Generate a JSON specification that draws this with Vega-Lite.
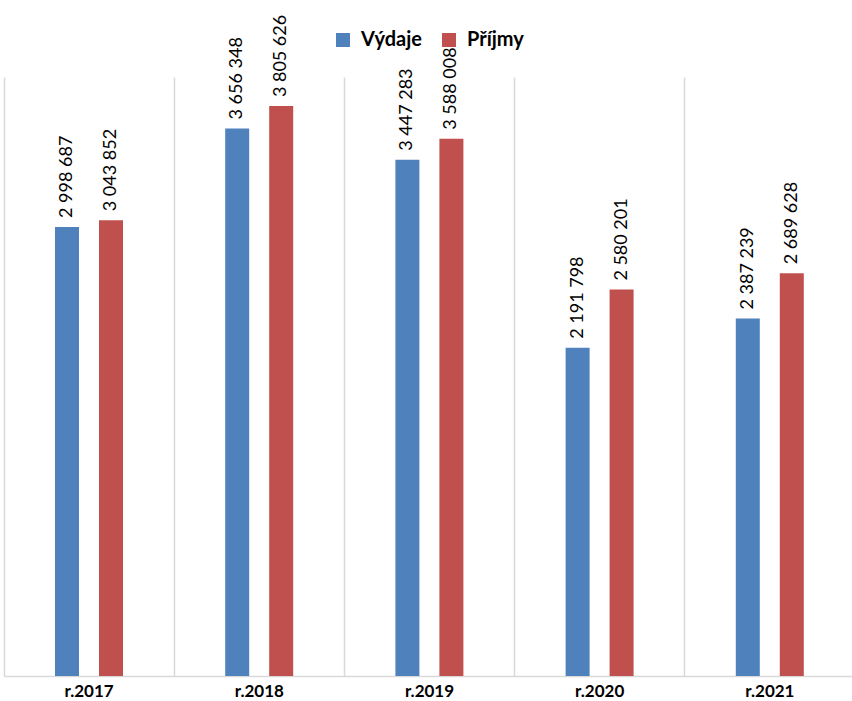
{
  "$schema": "https://vega.github.io/schema/vega-lite/v6.json",
  "width": 848,
  "height": 599,
  "autosize": "none",
  "padding": {"left": 4, "top": 77, "right": 0, "bottom": 25},
  "background": "white",
  "data": {
    "values": [
      {"year": "r.2017", "series": "Výdaje", "value": 2998687, "label": "2 998 687"},
      {"year": "r.2017", "series": "Příjmy", "value": 3043852, "label": "3 043 852"},
      {"year": "r.2018", "series": "Výdaje", "value": 3656348, "label": "3 656 348"},
      {"year": "r.2018", "series": "Příjmy", "value": 3805626, "label": "3 805 626"},
      {"year": "r.2019", "series": "Výdaje", "value": 3447283, "label": "3 447 283"},
      {"year": "r.2019", "series": "Příjmy", "value": 3588008, "label": "3 588 008"},
      {"year": "r.2020", "series": "Výdaje", "value": 2191798, "label": "2 191 798"},
      {"year": "r.2020", "series": "Příjmy", "value": 2580201, "label": "2 580 201"},
      {"year": "r.2021", "series": "Výdaje", "value": 2387239, "label": "2 387 239"},
      {"year": "r.2021", "series": "Příjmy", "value": 2689628, "label": "2 689 628"}
    ]
  },
  "encoding": {
    "x": {
      "field": "year", "type": "nominal", "sort": null,
      "scale": {"paddingInner": 0, "paddingOuter": 0, "range": [0, 851]},
      "axis": {
        "title": null, "labelAngle": 0, "ticks": false,
        "grid": true, "bandPosition": 0, "gridColor": "#d9d9d9", "gridWidth": 1.5,
        "domainColor": "#d9d9d9", "domainWidth": 1.5,
        "labelFont": "Lato", "labelFontSize": 17, "labelFontWeight": "bold",
        "labelColor": "#000000", "labelPadding": 7
      }
    },
    "xOffset": {
      "field": "series", "type": "nominal", "sort": ["Výdaje", "Příjmy"],
      "scale": {"range": [51, 119], "paddingInner": 0.4545, "paddingOuter": 0}
    },
    "y": {
      "field": "value", "type": "quantitative",
      "scale": {"domain": [0, 4000000], "nice": false, "zero": true},
      "axis": null
    }
  },
  "layer": [
    {
      "mark": {"type": "bar"},
      "encoding": {
        "color": {
          "field": "series", "type": "nominal",
          "scale": {"domain": ["Výdaje", "Příjmy"], "range": ["#4F81BD", "#C0504D"]},
          "legend": {
            "title": null, "orient": "none", "direction": "horizontal",
            "legendX": 329, "legendY": -47, "padding": 0,
            "symbolType": "square", "symbolSize": 196, "symbolStrokeWidth": 0,
            "labelFont": "Lato", "labelFontSize": 20, "labelFontWeight": "bold",
            "labelColor": "#000000", "labelOffset": 8, "columnPadding": 17
          }
        }
      }
    },
    {
      "mark": {
        "type": "text", "angle": -90, "align": "left", "baseline": "middle",
        "dx": 9, "font": "Lato", "fontSize": 18, "color": "#000000"
      },
      "encoding": {
        "text": {"field": "label", "type": "nominal"}
      }
    }
  ],
  "config": {"view": {"stroke": null}}
}
